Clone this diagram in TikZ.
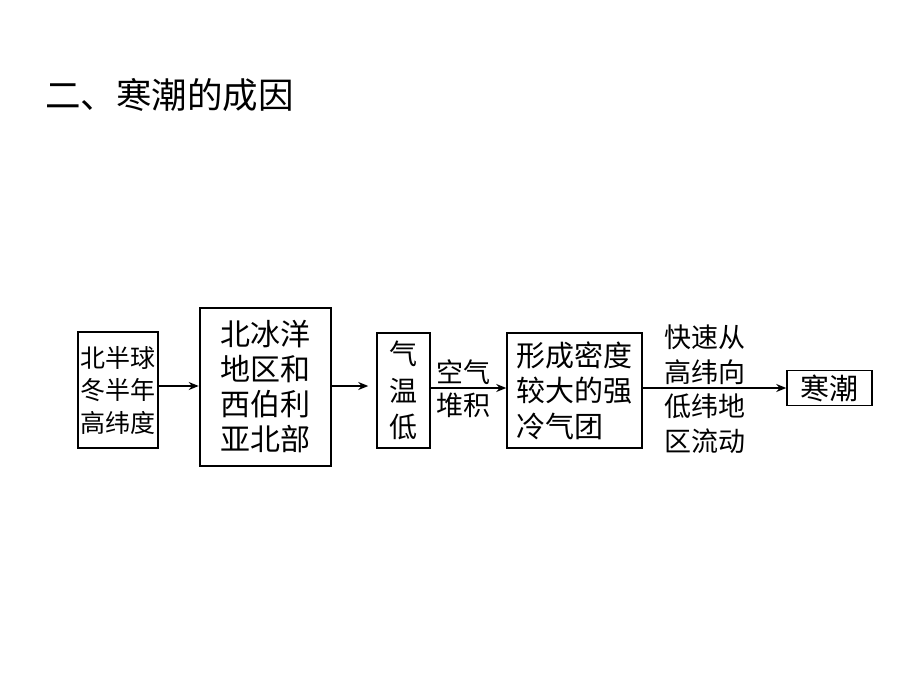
\documentclass[tikz,border=0pt]{standalone}
\usepackage{fontspec}
\newfontfamily\cjk{Noto Sans CJK SC}
\usetikzlibrary{arrows.meta}
\begin{document}
\begin{tikzpicture}[x=1pt,y=-1pt,
  box/.style={draw,line width=1.5pt,inner sep=0pt,align=left},
  conn/.style={line width=1.5pt,-{Stealth[length=10pt,width=8pt]}},
  lbl/.style={inner sep=0pt,align=center}]
\useasboundingbox (0,0) rectangle (920,690);
\node[anchor=west,inner sep=0pt,font=\cjk\fontsize{35.5pt}{38pt}\selectfont] (title) at (45,95) {二、寒潮的成因};
\node[box,minimum width=80pt,minimum height=116pt,font=\cjk\fontsize{25pt}{32.5pt}\selectfont] (b1) at (118,390) {北半球\\冬半年\\高纬度};
\node[box,line width=2.6pt,minimum width=131pt,minimum height=158pt,font=\cjk\fontsize{30pt}{35pt}\selectfont] (b2) at (265.5,387) {北冰洋\\地区和\\西伯利\\亚北部};
\node[box,minimum width=53pt,minimum height=115pt,align=center,font=\cjk\fontsize{28pt}{36.5pt}\selectfont] (b3) at (403.5,390.5) {气\\温\\低};
\node[box,minimum width=135pt,minimum height=115pt,font=\cjk\fontsize{29pt}{35.5pt}\selectfont] (b4) at (574.5,390.5) {形成密度\\较大的强\\冷气团};
\node[box,minimum width=85pt,minimum height=35pt,font=\cjk\fontsize{29pt}{32pt}\selectfont] (b5) at (829.5,388) {寒潮};
\draw[conn] (b1.east |- 0,386) -- (b2.west |- 0,386);
\draw[conn,shorten >=8pt] (b2.east |- 0,386) -- (b3.west |- 0,386);
\draw[conn] (b3.east |- 0,388) -- (b4.west |- 0,388);
\draw[conn] (b4.east |- 0,388) -- (b5.west |- 0,388);
\node[lbl,font=\cjk\fontsize{27pt}{33pt}\selectfont] (l1) at (463,389) {空气\\堆积};
\node[lbl,font=\cjk\fontsize{27pt}{34.5pt}\selectfont] (l2) at (705,389) {快速从\\高纬向\\低纬地\\区流动};
\end{tikzpicture}
\end{document}
